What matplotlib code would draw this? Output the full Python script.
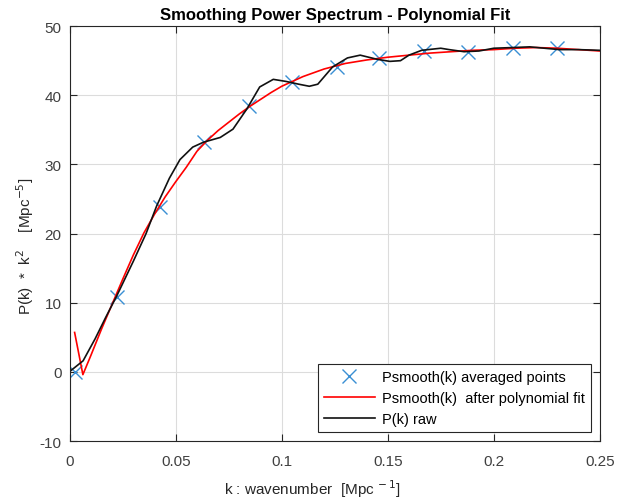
import matplotlib
matplotlib.use("Agg")
import matplotlib.pyplot as plt

plt.rcParams['font.family'] = ['Liberation Sans', 'DejaVu Sans']

# averaged points
avg_k = [0.0026, 0.0222, 0.0424, 0.0632, 0.0845, 0.1050, 0.1260, 0.1460, 0.1670, 0.1880, 0.2090, 0.2300]
avg_p = [0.0, 10.8, 23.8, 33.2, 38.4, 41.9, 44.1, 45.4, 46.4, 46.2, 46.8, 46.8]

# polynomial fit
fit_k = [0.0023, 0.0062, 0.010, 0.015, 0.020, 0.025, 0.030, 0.035, 0.040, 0.045, 0.050,
         0.055, 0.060, 0.065, 0.070, 0.075, 0.080, 0.085, 0.090, 0.095, 0.100, 0.110,
         0.120, 0.130, 0.140, 0.150, 0.160, 0.170, 0.180, 0.190, 0.200, 0.210, 0.220,
         0.230, 0.240, 0.250]
fit_p = [5.7, -0.4, 2.4, 6.2, 9.8, 13.4, 16.9, 20.1, 22.8, 25.3, 27.5,
         29.6, 31.9, 33.5, 34.9, 36.1, 37.3, 38.4, 39.4, 40.4, 41.3, 42.7,
         43.8, 44.6, 45.1, 45.5, 45.8, 46.1, 46.3, 46.5, 46.6, 46.8, 46.9,
         46.8, 46.6, 46.4]

# raw spectrum
raw_k = [0.0006, 0.0063, 0.012, 0.017, 0.0222, 0.030, 0.036, 0.041, 0.047, 0.052,
         0.058, 0.063, 0.071, 0.077, 0.0835, 0.0896, 0.096, 0.102, 0.108, 0.113,
         0.117, 0.124, 0.131, 0.137, 0.145, 0.151, 0.156, 0.160, 0.166, 0.175,
         0.179, 0.186, 0.193, 0.200, 0.209, 0.217, 0.224, 0.231, 0.240, 0.250]
raw_p = [0.2, 1.6, 4.8, 7.9, 11.0, 16.0, 20.0, 24.0, 28.0, 30.7,
         32.5, 33.2, 33.9, 35.1, 38.0, 41.2, 42.3, 42.0, 41.6, 41.3,
         41.6, 44.1, 45.4, 45.8, 45.2, 44.9, 45.0, 45.8, 46.5, 46.8,
         46.6, 46.3, 46.4, 46.8, 46.9, 47.0, 46.8, 46.6, 46.6, 46.5]

x_ticks = [0, 0.05, 0.1, 0.15, 0.2, 0.25]
x_labels = ['0', '0.05', '0.1', '0.15', '0.2', '0.25']
y_ticks = [-10, 0, 10, 20, 30, 40, 50]
y_labels = ['-10', '0', '10', '20', '30', '40', '50']

fig = plt.figure(figsize=(6.34, 5.02), dpi=100)
ax = fig.add_axes([0.110, 0.1195, 0.836, 0.8265])

ax.plot(avg_k, avg_p, 'x', color='#3a8fd4', markersize=10, markeredgewidth=1.0,
        label='Psmooth(k) averaged points')
ax.plot(fit_k, fit_p, '-', color='#ff0000', linewidth=1.2,
        label='Psmooth(k)  after polynomial fit')
ax.plot(raw_k, raw_p, '-', color='#111111', linewidth=1.2, label='P(k) raw')

ax.set_xlim(0, 0.25)
ax.set_ylim(-10, 50)
ax.set_xticks(x_ticks)
ax.set_xticklabels(x_labels)
ax.set_yticks(y_ticks)
ax.set_yticklabels(y_labels)
ax.grid(True, color='#dcdcdc', linewidth=0.8)
ax.set_axisbelow(True)
ax.tick_params(direction='in', top=True, right=True, length=5, labelsize=11,
               colors='#262626', labelcolor='#404040')
ax.tick_params(axis='x', pad=9)
ax.tick_params(axis='y', pad=6)
for s in ax.spines.values():
    s.set_color('#262626')
    s.set_linewidth(0.8)

ax.set_title('Smoothing Power Spectrum - Polynomial Fit', fontsize=12,
             fontweight='bold', pad=5)
ax.set_xlabel('k : wavenumber  [Mpc$^{\\,-1}$]', fontsize=11, color='#262626')
ax.set_ylabel('P(k)  *  k$^2$    [Mpc$^{-5}$]', fontsize=11, color='#262626')
ax.xaxis.set_label_coords(0.457, -0.087)
ax.yaxis.set_label_coords(-0.064, 0.472)

leg = ax.legend(loc='lower right', fontsize=10.5, fancybox=False, framealpha=1,
                edgecolor='#262626', borderaxespad=0.6, handlelength=3.5,
                handletextpad=0.5, labelspacing=0.5)
leg.get_frame().set_linewidth(0.8)

fig.savefig('out.png', dpi=100)
